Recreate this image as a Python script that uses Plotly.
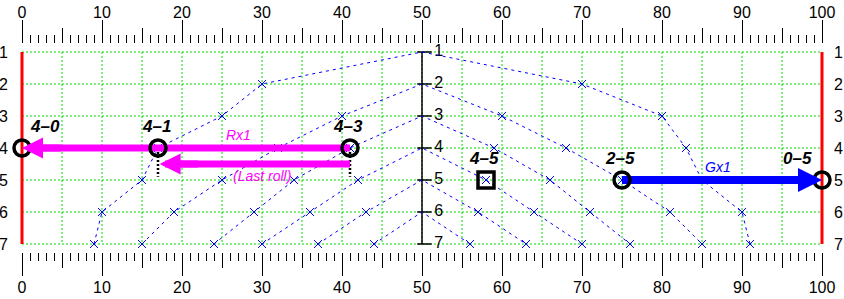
import plotly.graph_objects as go

# ---------------- data ----------------
rows = [1, 2, 3, 4, 5, 6, 7]
center_x = 50
x_major = list(range(0, 101, 10))
x_grid = list(range(5, 100, 5))

# blue fan curves: curve k starts at (50, curve_start[k]) and spreads down-left / down-right
curve_start = [1, 2, 3, 4, 5, 6]
curve_left = [[30, 25, 17, 15, 10, 9], [40, 32, 25, 19, 15], [41, 34, 29, 24], [42, 36, 30], [43, 37], [44]]
curve_right = [[70, 80, 83, 85, 90, 91], [60, 68, 75, 81, 85], [59, 66, 71, 76], [58, 64, 70], [57, 63], [56]]

circle_x = [0, 17, 41, 75, 100]
circle_y = [4, 4, 4, 5, 5]
square_x = [58]
square_y = [5]

label_text = ["4–0", "4–1", "4–3", "4–5", "2–5", "0–5"]
label_x = [2.9, 16.8, 40.8, 57.8, 74.8, 96.9]
label_y = [3.32, 3.32, 3.32, 4.33, 4.33, 4.33]

arrow_tail_x = [41, 41, 75]
arrow_tip_x = [0, 17.2, 100]
arrow_y = [4, 4.5, 5]
arrow_width = [7, 7, 8]
arrow_text = ["Rx1", "(Last roll)", "Gx1"]
arrow_text_x = [27, 30, 87]
arrow_text_y = [3.58, 4.89, 4.6]

dotted_x = [17, 41]
dotted_y = [4, 4.9]

MAGENTA = "#ff00ff"
BLUE = "#0000ff"
RED = "#ff0000"
GREEN = "#00dd00"
arrow_color = [MAGENTA, MAGENTA, BLUE]

FONT = "Liberation Sans, Arial, sans-serif"

fig = go.Figure()

# green dotted grid (confined to the 1..7 band)
gx, gy = [], []
for x in x_grid:
    gx += [x, x, None]
    gy += [rows[0], rows[-1], None]
for y in rows:
    gx += [0, 100, None]
    gy += [y, y, None]
fig.add_trace(go.Scatter(x=gx, y=gy, mode="lines", hoverinfo="skip",
                         line=dict(color=GREEN, width=1, dash="2px,2px")))

# red boundary lines
for xb in [0, 100]:
    fig.add_trace(go.Scatter(x=[xb, xb], y=[rows[0], rows[-1]], mode="lines",
                             line=dict(color=RED, width=3)))

# central axis with ticks
fig.add_trace(go.Scatter(x=[center_x, center_x], y=[rows[0], rows[-1]], mode="lines",
                         line=dict(color="black", width=1.5)))
tx, ty = [], []
for y in rows:
    tx += [center_x - 0.6, center_x + 1.2, None]
    ty += [y, y, None]
fig.add_trace(go.Scatter(x=tx, y=ty, mode="lines", line=dict(color="black", width=1.5)))
fig.add_trace(go.Scatter(x=[center_x + 2.1] * len(rows), y=rows, mode="text",
                         text=[str(r) for r in rows],
                         textfont=dict(family=FONT, size=16, color="black")))

# blue fan curves
for s, L, R in zip(curve_start, curve_left, curve_right):
    ys_side = list(range(s + 1, s + 1 + len(L)))
    xs = list(reversed(L)) + [center_x] + R
    ys = list(reversed(ys_side)) + [s] + ys_side
    fig.add_trace(go.Scatter(x=xs, y=ys, mode="lines",
                             line=dict(color=BLUE, width=1, dash="3px,4px")))
    mx = list(reversed(L)) + R
    my = list(reversed(ys_side)) + ys_side
    fig.add_trace(go.Scatter(x=mx, y=my, mode="markers",
                             marker=dict(symbol="x-thin", size=8, color=BLUE,
                                         line=dict(color=BLUE, width=1))))

# dotted black drops
for dx in dotted_x:
    fig.add_trace(go.Scatter(x=[dx, dx], y=dotted_y, mode="lines",
                             line=dict(color="black", width=2.5, dash="2px,2px")))

# arrow shafts (as traces so the rings sit on top of them)
for tx_, tip, y, w, c in zip(arrow_tail_x, arrow_tip_x, arrow_y, arrow_width, arrow_color):
    direction = 1 if tip > tx_ else -1
    fig.add_trace(go.Scatter(x=[tx_, tip - direction * 2], y=[y, y], mode="lines",
                             line=dict(color=c, width=w)))

# circles and square
fig.add_trace(go.Scatter(x=circle_x, y=circle_y, mode="markers", cliponaxis=False,
                         marker=dict(symbol="circle-open", size=16, color="black",
                                     line=dict(color="black", width=3.5))))
fig.add_trace(go.Scatter(x=square_x, y=square_y, mode="markers", cliponaxis=False,
                         marker=dict(symbol="square-open", size=16, color="black",
                                     line=dict(color="black", width=3.5))))

annotations = []
for t, x, y in zip(label_text, label_x, label_y):
    annotations.append(dict(x=x, y=y, xref="x", yref="y", text=t, showarrow=False,
                            xanchor="center", yanchor="middle",
                            font=dict(family=FONT, size=17, color="black",
                                      weight="bold", style="italic")))
# arrow heads
for tx_, tip, y, w, c in zip(arrow_tail_x, arrow_tip_x, arrow_y, arrow_width, arrow_color):
    direction = 1 if tip > tx_ else -1
    annotations.append(dict(x=tip, y=y, ax=tip - direction * 5, ay=y, xref="x", yref="y",
                            axref="x", ayref="y", text="", showarrow=True,
                            arrowhead=2, arrowsize=0.6, arrowwidth=w, arrowcolor=c,
                            standoff=0, startstandoff=0))
for t, x, y, c in zip(arrow_text, arrow_text_x, arrow_text_y, arrow_color):
    annotations.append(dict(x=x, y=y, xref="x", yref="y", text=t, showarrow=False,
                            xanchor="center", yanchor="middle",
                            font=dict(family=FONT, size=14, color=c, style="italic")))

XR = [-0.25, 100.25]
axis_common = dict(range=XR, showgrid=False, zeroline=False, showline=False,
                   automargin=False,
                   tickfont=dict(family=FONT, size=16, color="black"))
major = dict(tickmode="array", tickvals=x_major, ticks="outside", ticklen=23,
             tickwidth=1, tickcolor="black",
             minor=dict(dtick=5, tick0=0, ticks="outside", ticklen=15,
                        tickwidth=1, tickcolor="black", showgrid=False))
minor1 = dict(tickmode="linear", tick0=0, dtick=1, ticks="outside", ticklen=8,
              tickwidth=1, tickcolor="black", showticklabels=False)

yrange = [rows[-1] + 0.25, rows[0] - 0.25]
y_common = dict(range=yrange, tickvals=rows, showgrid=False, zeroline=False,
                showline=False, ticks="", automargin=False,
                tickfont=dict(family=FONT, size=16, color="black"))

fig.update_layout(
    width=844, height=299,
    margin=dict(l=20, r=20, t=44, b=47, autoexpand=False),
    paper_bgcolor="white", plot_bgcolor="white",
    showlegend=False,
    xaxis=dict(**axis_common, **major, side="bottom", ticklabelstandoff=-2),
    xaxis2=dict(**axis_common, **major, side="top", overlaying="x", anchor="y",
                ticklabelstandoff=-4),
    xaxis3=dict(**axis_common, **minor1, side="bottom", overlaying="x", anchor="y"),
    xaxis4=dict(**axis_common, **minor1, side="top", overlaying="x", anchor="y"),
    yaxis=dict(**y_common, side="left", ticklabelstandoff=11),
    yaxis2=dict(**y_common, side="right", overlaying="y", anchor="x", ticklabelstandoff=9),
    annotations=annotations,
)

# dummy traces to activate the overlay axes
for xa, ya in [("x2", "y"), ("x3", "y"), ("x4", "y"), ("x", "y2")]:
    fig.add_trace(go.Scatter(x=[None], y=[None], xaxis=xa, yaxis=ya, hoverinfo="skip"))

fig.write_html("out.html")
